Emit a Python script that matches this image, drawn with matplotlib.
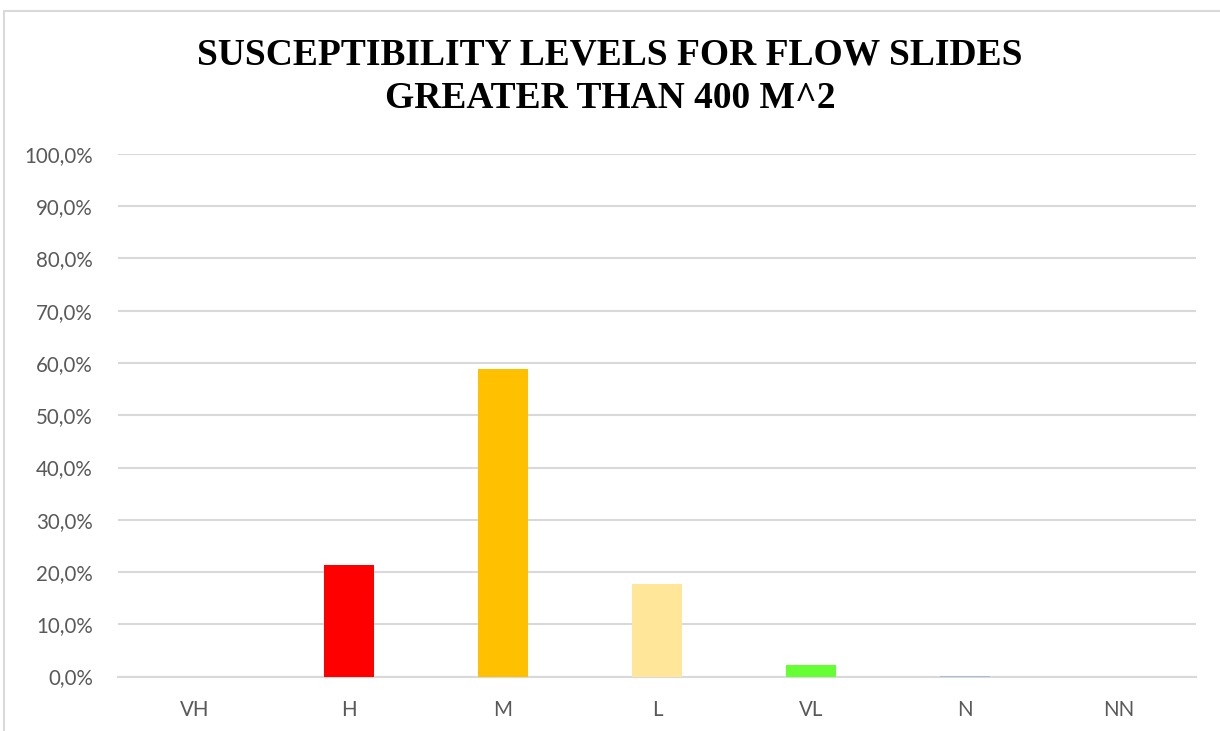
import matplotlib.pyplot as plt
import matplotlib.patches as mpatches
import numpy as np

levels = ["VH", "H", "M", "L", "VL", "N", "NN"]
shares = [0.0, 21.3, 58.9, 17.7, 2.2, 0.1, 0.0]
bar_colors = ["#FF0000", "#FF0000", "#FFC000", "#FFE699", "#66FF33", "#A9BED6", "#FFFFFF"]
yticks = np.arange(0, 101, 10)


def fmt_pct(v):
    return "{:.1f}%".format(v).replace(".", ",")


def make_graph():
    fig = plt.figure(figsize=(12.2, 7.31), dpi=100)
    ax = fig.add_axes([118 / 1220, 1 - 676.5 / 731, 1078 / 1220, 522.5 / 731])

    # outer chart frame (runs off the right and bottom edges)
    frame = mpatches.Rectangle((4 / 1220, -0.05), 1.2, 1 - 11 / 731 + 0.05,
                               transform=fig.transFigure, fill=False,
                               edgecolor="#D9D9D9", linewidth=1.5)
    fig.patches.append(frame)

    x = np.arange(len(levels))
    ax.bar(x, shares, width=0.32, color=bar_colors, zorder=3)

    ax.set_xlim(-0.5, len(levels) - 0.5)
    ax.set_ylim(0, 100)
    ax.set_yticks(yticks)
    ax.set_yticklabels([fmt_pct(v) for v in yticks])
    ax.set_xticks(x)
    ax.set_xticklabels(levels)
    ax.grid(axis="y", color="#D9D9D9", linewidth=1.5, zorder=0)
    for s in ["top", "right", "left"]:
        ax.spines[s].set_visible(False)
    ax.spines["bottom"].set_color("#D9D9D9")
    ax.spines["bottom"].set_linewidth(1.5)
    ax.tick_params(length=0, labelsize=14.8, colors="#595959")
    ax.tick_params(axis="y", pad=18)
    ax.tick_params(axis="x", pad=17)
    for lab in ax.get_xticklabels() + ax.get_yticklabels():
        lab.set_family("Lato")

    fig.text(0.5, 1 - 77 / 731, "SUSCEPTIBILITY LEVELS FOR FLOW SLIDES\nGREATER THAN 400 M^2",
             ha="center", va="center", family="Liberation Serif", weight="bold",
             fontsize=27, linespacing=1.3)

    fig.savefig("out.png", dpi=100)


make_graph()
